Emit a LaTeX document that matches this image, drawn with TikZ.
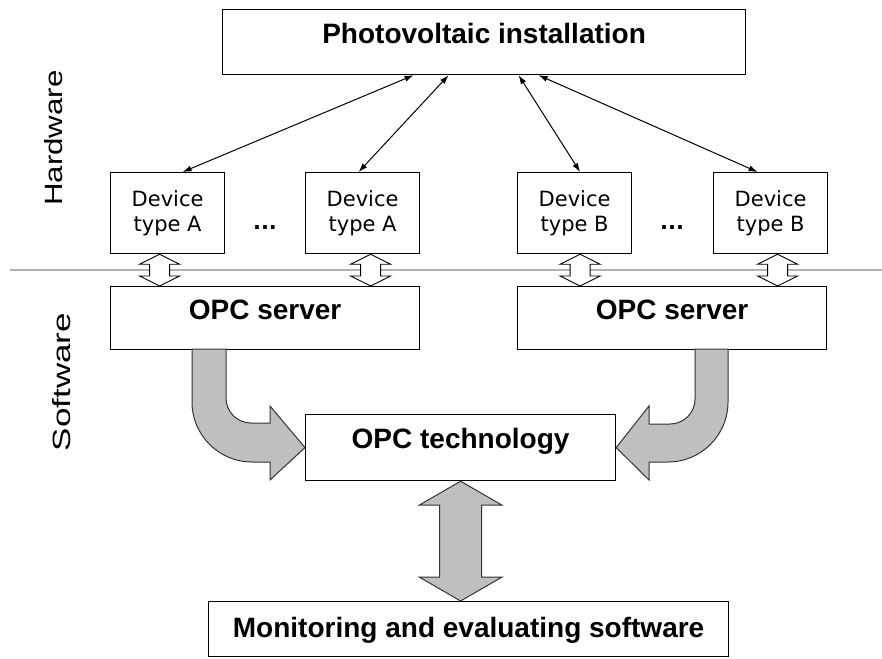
\documentclass[tikz,border=0pt]{standalone}
\usepackage{fontspec}
\setmainfont{Liberation Sans}
\newfontfamily\devfont{DejaVu Sans}
\usetikzlibrary{arrows.meta,calc}

\tikzset{
  box/.style={draw, line width=1.2pt, inner sep=0pt, anchor=north west, font=\fontsize{28}{30}\selectfont\bfseries},
  device/.style={draw, line width=1.2pt, anchor=north west, minimum width=114pt, minimum height=81pt, align=center, font=\devfont\fontsize{21}{25}\selectfont},
  link/.style={<->, line width=1pt, >={Latex[length=9pt,width=6pt]}},
  thinarr/.style={draw=black, fill=white, line width=0.9pt},
  bigarr/.style={draw=black!80, fill=gray!50, line width=1pt},
  side/.style={rotate=90, font=\fontsize{25}{28}\selectfont}
}

\newcommand{\blockarrow}[6]{%
  \path[#1] (#2) -- ++(#4,#6) -- ++(-#4+#5,0) -- ($(#3)+(#5,-#6)$) -- ++(#4-#5,0) -- (#3)
    -- ++(-#4,-#6) -- ++(#4-#5,0) -- ($(#2)+(-#5,#6)$) -- ++(-#4+#5,0) -- cycle;}

\begin{document}
\begin{tikzpicture}[x=1pt, y=-1pt]
  \useasboundingbox (0,0) rectangle (882,658);

  \draw[gray!60, line width=1.2pt] (10,270) -- (882,270);

  \node[side] (hw) at (54,138) {\scalebox{1.25}[1]{Hardware}};
  \node[side] (sw) at (62,382) {\scalebox{1.4}[1]{Software}};

  \node[box, minimum width=523pt, text height=34pt, text depth=31pt] (pv) at (222,9) {Photovoltaic installation};

  \node[device] (dA1) at (110,172) {Device\\type A};
  \node[device] (dA2) at (305,172) {Device\\type A};
  \node[device] (dB1) at (517,172) {Device\\type B};
  \node[device] (dB2) at (713,172) {Device\\type B};
  \node[font=\devfont\fontsize{21}{25}\selectfont\bfseries] (dotsA) at (265,228) {...};
  \node[font=\devfont\fontsize{21}{25}\selectfont\bfseries] (dotsB) at (672,228) {...};

  \node[box, minimum width=309pt, text height=33pt, text depth=30pt] (srvA) at (110,286) {OPC server};
  \node[box, minimum width=309pt, text height=33pt, text depth=30pt] (srvB) at (517,286) {OPC server};
  \node[box, minimum width=310pt, text height=34pt, text depth=32pt] (tech) at (305,414) {OPC technology};
  \node[box, minimum width=520pt, text height=36pt, text depth=19pt] (mon) at (208,601) {Monitoring and evaluating software};

  \draw[link] ([xshift=15pt]dA1.north) -- ([xshift=-70.5pt]pv.south);
  \draw[link] ([xshift=-4pt]dA2.north) -- ([xshift=-35.5pt]pv.south);
  \draw[link] ([xshift=5.5pt]dB1.north) -- ([xshift=34.5pt]pv.south);
  \draw[link] ([xshift=-13pt]dB2.north) -- ([xshift=54.5pt]pv.south);

  \coordinate (a1t) at ([xshift=-8pt]dA1.south);  \coordinate (a1b) at (a1t |- srvA.north);
  \coordinate (a2t) at ([xshift=8pt]dA2.south);   \coordinate (a2b) at (a2t |- srvA.north);
  \coordinate (b1t) at ([xshift=5.5pt]dB1.south); \coordinate (b1b) at (b1t |- srvB.north);
  \coordinate (b2t) at ([xshift=7pt]dB2.south);   \coordinate (b2b) at (b2t |- srvB.north);
  \blockarrow{thinarr}{a1t}{a1b}{20}{10}{10}
  \blockarrow{thinarr}{a2t}{a2b}{20}{10}{10}
  \blockarrow{thinarr}{b1t}{b1b}{20}{10}{10}
  \blockarrow{thinarr}{b2t}{b2b}{20}{10}{10}

  \path[bigarr] (192,349) -- (192,402) arc[start angle=180, end angle=90, radius=60] -- (270,462)
    -- (270,480) -- (tech.west) -- (270,406) -- (270,423) -- (251,423)
    arc[start angle=90, end angle=180, radius=25] -- (226,349) -- cycle;
  \path[bigarr] (728,349) -- (728,402) arc[start angle=0, end angle=90, radius=60] -- (649,462)
    -- (649,480) -- (tech.east) -- (649,406) -- (649,424) -- (670,424)
    arc[start angle=90, end angle=0, radius=25] -- (695,349) -- cycle;

  \coordinate (vt) at (tech.south);
  \coordinate (vb) at (tech.south |- mon.north);
  \blockarrow{bigarr}{vt}{vb}{41.5}{21}{24}
\end{tikzpicture}
\end{document}
